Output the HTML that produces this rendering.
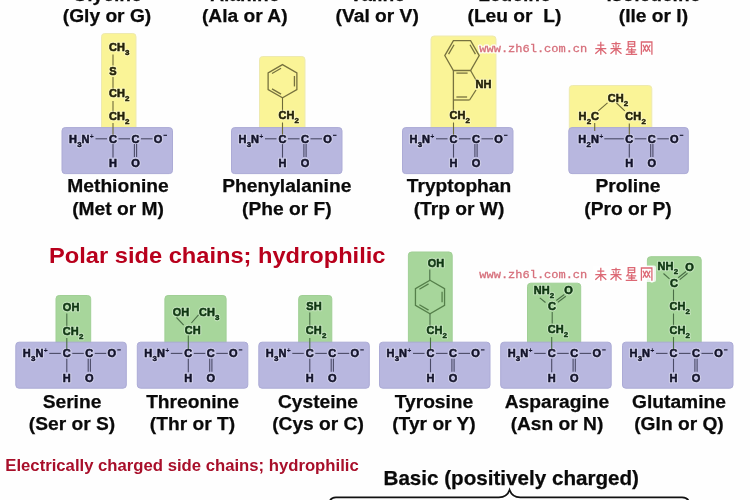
<!DOCTYPE html>
<html><head><meta charset="utf-8"><style>
html,body{margin:0;padding:0;background:#fff;}
body{width:750px;height:500px;overflow:hidden;}
svg{display:block;font-family:"Liberation Sans",sans-serif;font-weight:bold;filter:blur(0.35px);}
</style></head><body>
<svg width="750" height="500" viewBox="0 0 750 500">
<rect width="750" height="500" fill="#fefefe"/>
<text x="107.00" y="1.20" font-size="19.2" text-anchor="middle" fill="#0a0a0a" stroke="#0a0a0a" stroke-width="0.25">Glycine</text>
<text x="107.00" y="22.40" font-size="19.2" text-anchor="middle" fill="#0a0a0a" stroke="#0a0a0a" stroke-width="0.25">(Gly or G)</text>
<text x="244.80" y="1.20" font-size="19.2" text-anchor="middle" fill="#0a0a0a" stroke="#0a0a0a" stroke-width="0.25">Alanine</text>
<text x="244.80" y="22.40" font-size="19.2" text-anchor="middle" fill="#0a0a0a" stroke="#0a0a0a" stroke-width="0.25">(Ala or A)</text>
<text x="377.20" y="1.20" font-size="19.2" text-anchor="middle" fill="#0a0a0a" stroke="#0a0a0a" stroke-width="0.25">Valine</text>
<text x="377.20" y="22.40" font-size="19.2" text-anchor="middle" fill="#0a0a0a" stroke="#0a0a0a" stroke-width="0.25">(Val or V)</text>
<text x="514.40" y="1.20" font-size="19.2" text-anchor="middle" fill="#0a0a0a" stroke="#0a0a0a" stroke-width="0.25">Leucine</text>
<text x="514.40" y="22.40" font-size="19.2" text-anchor="middle" fill="#0a0a0a" stroke="#0a0a0a" stroke-width="0.25">(Leu or  L)</text>
<text x="653.40" y="1.20" font-size="19.2" text-anchor="middle" fill="#0a0a0a" stroke="#0a0a0a" stroke-width="0.25">Isoleucine</text>
<text x="653.40" y="22.40" font-size="19.2" text-anchor="middle" fill="#0a0a0a" stroke="#0a0a0a" stroke-width="0.25">(Ile or I)</text>
<rect x="101.50" y="33.50" width="34.50" height="99.00" rx="3.2" fill="#faf497" stroke="#eeeab0" stroke-width="1"/>
<rect x="62.00" y="127.60" width="110.50" height="46.00" rx="3.2" fill="#b8b7df" stroke="#acabd6" stroke-width="1"/>
<text x="69.00" y="142.60" font-size="11.0" fill="none" stroke="#fff" stroke-width="2.6" stroke-linejoin="round" opacity="0.35">H</text>
<text x="69.00" y="142.60" font-size="11.0" fill="#13132a" stroke="#13132a" stroke-width="0.55">H</text>
<text x="77.14" y="146.60" font-size="8.0" fill="none" stroke="#fff" stroke-width="2.4" stroke-linejoin="round" opacity="0.35">3</text>
<text x="77.14" y="146.60" font-size="8.0" fill="#13132a" stroke="#13132a" stroke-width="0.45">3</text>
<text x="81.59" y="142.60" font-size="11.0" fill="none" stroke="#fff" stroke-width="2.6" stroke-linejoin="round" opacity="0.35">N</text>
<text x="81.59" y="142.60" font-size="11.0" fill="#13132a" stroke="#13132a" stroke-width="0.55">N</text>
<text x="89.84" y="138.60" font-size="7.0" fill="#13132a">+</text>
<line x1="95.50" y1="138.80" x2="107.00" y2="138.80" stroke="#4a4a66" stroke-width="1.1"/>
<text x="109.03" y="142.60" font-size="11.0" fill="none" stroke="#fff" stroke-width="2.6" stroke-linejoin="round" opacity="0.35">C</text>
<text x="109.03" y="142.60" font-size="11.0" fill="#13132a" stroke="#13132a" stroke-width="0.55">C</text>
<line x1="118.50" y1="138.80" x2="130.00" y2="138.80" stroke="#4a4a66" stroke-width="1.1"/>
<text x="131.53" y="142.60" font-size="11.0" fill="none" stroke="#fff" stroke-width="2.6" stroke-linejoin="round" opacity="0.35">C</text>
<text x="131.53" y="142.60" font-size="11.0" fill="#13132a" stroke="#13132a" stroke-width="0.55">C</text>
<line x1="141.00" y1="138.80" x2="152.50" y2="138.80" stroke="#4a4a66" stroke-width="1.1"/>
<text x="153.72" y="142.60" font-size="11.0" fill="none" stroke="#fff" stroke-width="2.6" stroke-linejoin="round" opacity="0.35">O</text>
<text x="153.72" y="142.60" font-size="11.0" fill="#13132a" stroke="#13132a" stroke-width="0.55">O</text>
<line x1="163.50" y1="135.30" x2="167.00" y2="135.30" stroke="#13132a" stroke-width="1.1"/>
<line x1="113.00" y1="144.10" x2="113.00" y2="157.60" stroke="#4a4a66" stroke-width="1.1"/>
<text x="109.03" y="167.10" font-size="11.0" fill="none" stroke="#fff" stroke-width="2.6" stroke-linejoin="round" opacity="0.35">H</text>
<text x="109.03" y="167.10" font-size="11.0" fill="#13132a" stroke="#13132a" stroke-width="0.55">H</text>
<line x1="134.40" y1="144.10" x2="134.40" y2="157.10" stroke="#4a4a66" stroke-width="1.1"/>
<line x1="136.60" y1="144.10" x2="136.60" y2="157.10" stroke="#4a4a66" stroke-width="1.1"/>
<text x="131.22" y="167.10" font-size="11.0" fill="none" stroke="#fff" stroke-width="2.6" stroke-linejoin="round" opacity="0.35">O</text>
<text x="131.22" y="167.10" font-size="11.0" fill="#13132a" stroke="#13132a" stroke-width="0.55">O</text>
<text x="109.03" y="51.00" font-size="11.0" fill="none" stroke="#fff" stroke-width="2.6" stroke-linejoin="round" opacity="0.35">C</text>
<text x="109.03" y="51.00" font-size="11.0" fill="#24220a" stroke="#24220a" stroke-width="0.55">C</text>
<text x="116.97" y="51.00" font-size="11.0" fill="none" stroke="#fff" stroke-width="2.6" stroke-linejoin="round" opacity="0.35">H</text>
<text x="116.97" y="51.00" font-size="11.0" fill="#24220a" stroke="#24220a" stroke-width="0.55">H</text>
<text x="125.12" y="55.00" font-size="8.0" fill="none" stroke="#fff" stroke-width="2.4" stroke-linejoin="round" opacity="0.35">3</text>
<text x="125.12" y="55.00" font-size="8.0" fill="#24220a" stroke="#24220a" stroke-width="0.45">3</text>
<line x1="113.00" y1="54.50" x2="113.00" y2="65.50" stroke="#6e6a3a" stroke-width="1.1"/>
<text x="109.33" y="75.00" font-size="11.0" fill="none" stroke="#fff" stroke-width="2.6" stroke-linejoin="round" opacity="0.35">S</text>
<text x="109.33" y="75.00" font-size="11.0" fill="#24220a" stroke="#24220a" stroke-width="0.55">S</text>
<line x1="113.00" y1="77.00" x2="113.00" y2="88.50" stroke="#6e6a3a" stroke-width="1.1"/>
<text x="109.03" y="97.20" font-size="11.0" fill="none" stroke="#fff" stroke-width="2.6" stroke-linejoin="round" opacity="0.35">C</text>
<text x="109.03" y="97.20" font-size="11.0" fill="#24220a" stroke="#24220a" stroke-width="0.55">C</text>
<text x="116.97" y="97.20" font-size="11.0" fill="none" stroke="#fff" stroke-width="2.6" stroke-linejoin="round" opacity="0.35">H</text>
<text x="116.97" y="97.20" font-size="11.0" fill="#24220a" stroke="#24220a" stroke-width="0.55">H</text>
<text x="125.12" y="101.20" font-size="8.0" fill="none" stroke="#fff" stroke-width="2.4" stroke-linejoin="round" opacity="0.35">2</text>
<text x="125.12" y="101.20" font-size="8.0" fill="#24220a" stroke="#24220a" stroke-width="0.45">2</text>
<line x1="113.00" y1="101.00" x2="113.00" y2="111.50" stroke="#6e6a3a" stroke-width="1.1"/>
<text x="109.03" y="119.70" font-size="11.0" fill="none" stroke="#fff" stroke-width="2.6" stroke-linejoin="round" opacity="0.35">C</text>
<text x="109.03" y="119.70" font-size="11.0" fill="#24220a" stroke="#24220a" stroke-width="0.55">C</text>
<text x="116.97" y="119.70" font-size="11.0" fill="none" stroke="#fff" stroke-width="2.6" stroke-linejoin="round" opacity="0.35">H</text>
<text x="116.97" y="119.70" font-size="11.0" fill="#24220a" stroke="#24220a" stroke-width="0.55">H</text>
<text x="125.12" y="123.70" font-size="8.0" fill="none" stroke="#fff" stroke-width="2.4" stroke-linejoin="round" opacity="0.35">2</text>
<text x="125.12" y="123.70" font-size="8.0" fill="#24220a" stroke="#24220a" stroke-width="0.45">2</text>
<line x1="113.00" y1="123.00" x2="113.00" y2="134.50" stroke="#6e6a3a" stroke-width="1.1"/>
<text x="118.00" y="192.20" font-size="19.2" text-anchor="middle" fill="#0a0a0a" stroke="#0a0a0a" stroke-width="0.25">Methionine</text>
<text x="118.00" y="214.70" font-size="19.2" text-anchor="middle" fill="#0a0a0a" stroke="#0a0a0a" stroke-width="0.25">(Met or M)</text>
<rect x="259.50" y="56.50" width="45.50" height="79.00" rx="3.2" fill="#faf497" stroke="#eeeab0" stroke-width="1"/>
<rect x="231.50" y="127.60" width="110.50" height="46.00" rx="3.2" fill="#b8b7df" stroke="#acabd6" stroke-width="1"/>
<text x="238.50" y="142.60" font-size="11.0" fill="none" stroke="#fff" stroke-width="2.6" stroke-linejoin="round" opacity="0.35">H</text>
<text x="238.50" y="142.60" font-size="11.0" fill="#13132a" stroke="#13132a" stroke-width="0.55">H</text>
<text x="246.64" y="146.60" font-size="8.0" fill="none" stroke="#fff" stroke-width="2.4" stroke-linejoin="round" opacity="0.35">3</text>
<text x="246.64" y="146.60" font-size="8.0" fill="#13132a" stroke="#13132a" stroke-width="0.45">3</text>
<text x="251.09" y="142.60" font-size="11.0" fill="none" stroke="#fff" stroke-width="2.6" stroke-linejoin="round" opacity="0.35">N</text>
<text x="251.09" y="142.60" font-size="11.0" fill="#13132a" stroke="#13132a" stroke-width="0.55">N</text>
<text x="259.34" y="138.60" font-size="7.0" fill="#13132a">+</text>
<line x1="265.00" y1="138.80" x2="276.50" y2="138.80" stroke="#4a4a66" stroke-width="1.1"/>
<text x="278.53" y="142.60" font-size="11.0" fill="none" stroke="#fff" stroke-width="2.6" stroke-linejoin="round" opacity="0.35">C</text>
<text x="278.53" y="142.60" font-size="11.0" fill="#13132a" stroke="#13132a" stroke-width="0.55">C</text>
<line x1="288.00" y1="138.80" x2="299.50" y2="138.80" stroke="#4a4a66" stroke-width="1.1"/>
<text x="301.03" y="142.60" font-size="11.0" fill="none" stroke="#fff" stroke-width="2.6" stroke-linejoin="round" opacity="0.35">C</text>
<text x="301.03" y="142.60" font-size="11.0" fill="#13132a" stroke="#13132a" stroke-width="0.55">C</text>
<line x1="310.50" y1="138.80" x2="322.00" y2="138.80" stroke="#4a4a66" stroke-width="1.1"/>
<text x="323.22" y="142.60" font-size="11.0" fill="none" stroke="#fff" stroke-width="2.6" stroke-linejoin="round" opacity="0.35">O</text>
<text x="323.22" y="142.60" font-size="11.0" fill="#13132a" stroke="#13132a" stroke-width="0.55">O</text>
<line x1="333.00" y1="135.30" x2="336.50" y2="135.30" stroke="#13132a" stroke-width="1.1"/>
<line x1="282.50" y1="144.10" x2="282.50" y2="157.60" stroke="#4a4a66" stroke-width="1.1"/>
<text x="278.53" y="167.10" font-size="11.0" fill="none" stroke="#fff" stroke-width="2.6" stroke-linejoin="round" opacity="0.35">H</text>
<text x="278.53" y="167.10" font-size="11.0" fill="#13132a" stroke="#13132a" stroke-width="0.55">H</text>
<line x1="303.90" y1="144.10" x2="303.90" y2="157.10" stroke="#4a4a66" stroke-width="1.1"/>
<line x1="306.10" y1="144.10" x2="306.10" y2="157.10" stroke="#4a4a66" stroke-width="1.1"/>
<text x="300.72" y="167.10" font-size="11.0" fill="none" stroke="#fff" stroke-width="2.6" stroke-linejoin="round" opacity="0.35">O</text>
<text x="300.72" y="167.10" font-size="11.0" fill="#13132a" stroke="#13132a" stroke-width="0.55">O</text>
<path d="M282.50,64.60 L296.88,72.90 L296.88,89.50 L282.50,97.80 L268.12,89.50 L268.12,72.90 Z" fill="none" stroke="#77723f" stroke-width="1.3"/>
<line x1="272.00" y1="73.48" x2="281.07" y2="68.25" stroke="#77723f" stroke-width="1.3"/>
<line x1="294.43" y1="75.96" x2="294.43" y2="86.44" stroke="#77723f" stroke-width="1.3"/>
<line x1="281.07" y1="94.15" x2="272.00" y2="88.92" stroke="#77723f" stroke-width="1.3"/>
<line x1="282.50" y1="97.80" x2="282.50" y2="111.00" stroke="#6e6a3a" stroke-width="1.1"/>
<text x="278.53" y="119.00" font-size="11.0" fill="none" stroke="#fff" stroke-width="2.6" stroke-linejoin="round" opacity="0.35">C</text>
<text x="278.53" y="119.00" font-size="11.0" fill="#24220a" stroke="#24220a" stroke-width="0.55">C</text>
<text x="286.47" y="119.00" font-size="11.0" fill="none" stroke="#fff" stroke-width="2.6" stroke-linejoin="round" opacity="0.35">H</text>
<text x="286.47" y="119.00" font-size="11.0" fill="#24220a" stroke="#24220a" stroke-width="0.55">H</text>
<text x="294.62" y="123.00" font-size="8.0" fill="none" stroke="#fff" stroke-width="2.4" stroke-linejoin="round" opacity="0.35">2</text>
<text x="294.62" y="123.00" font-size="8.0" fill="#24220a" stroke="#24220a" stroke-width="0.45">2</text>
<line x1="282.50" y1="122.50" x2="282.50" y2="134.50" stroke="#6e6a3a" stroke-width="1.1"/>
<text x="286.80" y="192.20" font-size="19.2" text-anchor="middle" fill="#0a0a0a" stroke="#0a0a0a" stroke-width="0.25">Phenylalanine</text>
<text x="286.80" y="214.70" font-size="19.2" text-anchor="middle" fill="#0a0a0a" stroke="#0a0a0a" stroke-width="0.25">(Phe or F)</text>
<rect x="431.00" y="36.00" width="65.00" height="99.00" rx="3.2" fill="#faf497" stroke="#eeeab0" stroke-width="1"/>
<rect x="402.50" y="127.60" width="110.50" height="46.00" rx="3.2" fill="#b8b7df" stroke="#acabd6" stroke-width="1"/>
<text x="409.50" y="142.60" font-size="11.0" fill="none" stroke="#fff" stroke-width="2.6" stroke-linejoin="round" opacity="0.35">H</text>
<text x="409.50" y="142.60" font-size="11.0" fill="#13132a" stroke="#13132a" stroke-width="0.55">H</text>
<text x="417.64" y="146.60" font-size="8.0" fill="none" stroke="#fff" stroke-width="2.4" stroke-linejoin="round" opacity="0.35">3</text>
<text x="417.64" y="146.60" font-size="8.0" fill="#13132a" stroke="#13132a" stroke-width="0.45">3</text>
<text x="422.09" y="142.60" font-size="11.0" fill="none" stroke="#fff" stroke-width="2.6" stroke-linejoin="round" opacity="0.35">N</text>
<text x="422.09" y="142.60" font-size="11.0" fill="#13132a" stroke="#13132a" stroke-width="0.55">N</text>
<text x="430.34" y="138.60" font-size="7.0" fill="#13132a">+</text>
<line x1="436.00" y1="138.80" x2="447.50" y2="138.80" stroke="#4a4a66" stroke-width="1.1"/>
<text x="449.53" y="142.60" font-size="11.0" fill="none" stroke="#fff" stroke-width="2.6" stroke-linejoin="round" opacity="0.35">C</text>
<text x="449.53" y="142.60" font-size="11.0" fill="#13132a" stroke="#13132a" stroke-width="0.55">C</text>
<line x1="459.00" y1="138.80" x2="470.50" y2="138.80" stroke="#4a4a66" stroke-width="1.1"/>
<text x="472.03" y="142.60" font-size="11.0" fill="none" stroke="#fff" stroke-width="2.6" stroke-linejoin="round" opacity="0.35">C</text>
<text x="472.03" y="142.60" font-size="11.0" fill="#13132a" stroke="#13132a" stroke-width="0.55">C</text>
<line x1="481.50" y1="138.80" x2="493.00" y2="138.80" stroke="#4a4a66" stroke-width="1.1"/>
<text x="494.22" y="142.60" font-size="11.0" fill="none" stroke="#fff" stroke-width="2.6" stroke-linejoin="round" opacity="0.35">O</text>
<text x="494.22" y="142.60" font-size="11.0" fill="#13132a" stroke="#13132a" stroke-width="0.55">O</text>
<line x1="504.00" y1="135.30" x2="507.50" y2="135.30" stroke="#13132a" stroke-width="1.1"/>
<line x1="453.50" y1="144.10" x2="453.50" y2="157.60" stroke="#4a4a66" stroke-width="1.1"/>
<text x="449.53" y="167.10" font-size="11.0" fill="none" stroke="#fff" stroke-width="2.6" stroke-linejoin="round" opacity="0.35">H</text>
<text x="449.53" y="167.10" font-size="11.0" fill="#13132a" stroke="#13132a" stroke-width="0.55">H</text>
<line x1="474.90" y1="144.10" x2="474.90" y2="157.10" stroke="#4a4a66" stroke-width="1.1"/>
<line x1="477.10" y1="144.10" x2="477.10" y2="157.10" stroke="#4a4a66" stroke-width="1.1"/>
<text x="471.72" y="167.10" font-size="11.0" fill="none" stroke="#fff" stroke-width="2.6" stroke-linejoin="round" opacity="0.35">O</text>
<text x="471.72" y="167.10" font-size="11.0" fill="#13132a" stroke="#13132a" stroke-width="0.55">O</text>
<path d="M453.40,40.70 L470.60,40.70 L479.20,55.60 L470.60,70.50 L453.40,70.50 L444.80,55.60 Z" fill="none" stroke="#77723f" stroke-width="1.3"/>
<line x1="448.58" y1="54.12" x2="454.01" y2="44.72" stroke="#77723f" stroke-width="1.3"/>
<line x1="469.99" y1="44.72" x2="475.42" y2="54.12" stroke="#77723f" stroke-width="1.3"/>
<line x1="456.40" y1="73.10" x2="467.60" y2="73.10" stroke="#77723f" stroke-width="1.3"/>
<line x1="453.40" y1="70.50" x2="453.40" y2="100.00" stroke="#77723f" stroke-width="1.3"/>
<line x1="453.40" y1="100.00" x2="469.60" y2="100.00" stroke="#77723f" stroke-width="1.3"/>
<line x1="456.40" y1="97.00" x2="467.10" y2="97.00" stroke="#77723f" stroke-width="1.3"/>
<line x1="470.60" y1="70.50" x2="476.50" y2="81.00" stroke="#77723f" stroke-width="1.3"/>
<line x1="469.60" y1="100.00" x2="476.00" y2="90.00" stroke="#77723f" stroke-width="1.3"/>
<text x="475.60" y="88.30" font-size="11.0" fill="none" stroke="#fff" stroke-width="2.6" stroke-linejoin="round" opacity="0.35">NH</text>
<text x="475.60" y="88.30" font-size="11.0" fill="#24220a" stroke="#24220a" stroke-width="0.55">NH</text>
<line x1="453.40" y1="100.00" x2="453.40" y2="111.50" stroke="#77723f" stroke-width="1.3"/>
<text x="449.53" y="119.20" font-size="11.0" fill="none" stroke="#fff" stroke-width="2.6" stroke-linejoin="round" opacity="0.35">C</text>
<text x="449.53" y="119.20" font-size="11.0" fill="#24220a" stroke="#24220a" stroke-width="0.55">C</text>
<text x="457.47" y="119.20" font-size="11.0" fill="none" stroke="#fff" stroke-width="2.6" stroke-linejoin="round" opacity="0.35">H</text>
<text x="457.47" y="119.20" font-size="11.0" fill="#24220a" stroke="#24220a" stroke-width="0.55">H</text>
<text x="465.62" y="123.20" font-size="8.0" fill="none" stroke="#fff" stroke-width="2.4" stroke-linejoin="round" opacity="0.35">2</text>
<text x="465.62" y="123.20" font-size="8.0" fill="#24220a" stroke="#24220a" stroke-width="0.45">2</text>
<line x1="453.50" y1="122.50" x2="453.50" y2="134.50" stroke="#6e6a3a" stroke-width="1.1"/>
<text x="459.00" y="192.20" font-size="19.2" text-anchor="middle" fill="#0a0a0a" stroke="#0a0a0a" stroke-width="0.25">Tryptophan</text>
<text x="459.00" y="214.70" font-size="19.2" text-anchor="middle" fill="#0a0a0a" stroke="#0a0a0a" stroke-width="0.25">(Trp or W)</text>
<rect x="569.30" y="85.50" width="82.50" height="49.00" rx="3.2" fill="#faf497" stroke="#eeeab0" stroke-width="1"/>
<rect x="568.80" y="127.60" width="119.50" height="46.00" rx="3.2" fill="#b8b7df" stroke="#acabd6" stroke-width="1"/>
<text x="578.30" y="142.60" font-size="11.0" fill="none" stroke="#fff" stroke-width="2.6" stroke-linejoin="round" opacity="0.35">H</text>
<text x="578.30" y="142.60" font-size="11.0" fill="#13132a" stroke="#13132a" stroke-width="0.55">H</text>
<text x="586.44" y="146.60" font-size="8.0" fill="none" stroke="#fff" stroke-width="2.4" stroke-linejoin="round" opacity="0.35">2</text>
<text x="586.44" y="146.60" font-size="8.0" fill="#13132a" stroke="#13132a" stroke-width="0.45">2</text>
<text x="590.89" y="142.60" font-size="11.0" fill="none" stroke="#fff" stroke-width="2.6" stroke-linejoin="round" opacity="0.35">N</text>
<text x="590.89" y="142.60" font-size="11.0" fill="#13132a" stroke="#13132a" stroke-width="0.55">N</text>
<text x="599.14" y="138.60" font-size="7.0" fill="#13132a">+</text>
<line x1="604.30" y1="138.80" x2="623.80" y2="138.80" stroke="#4a4a66" stroke-width="1.1"/>
<text x="625.33" y="142.60" font-size="11.0" fill="none" stroke="#fff" stroke-width="2.6" stroke-linejoin="round" opacity="0.35">C</text>
<text x="625.33" y="142.60" font-size="11.0" fill="#13132a" stroke="#13132a" stroke-width="0.55">C</text>
<line x1="634.80" y1="138.80" x2="646.30" y2="138.80" stroke="#4a4a66" stroke-width="1.1"/>
<text x="647.83" y="142.60" font-size="11.0" fill="none" stroke="#fff" stroke-width="2.6" stroke-linejoin="round" opacity="0.35">C</text>
<text x="647.83" y="142.60" font-size="11.0" fill="#13132a" stroke="#13132a" stroke-width="0.55">C</text>
<line x1="657.30" y1="138.80" x2="668.80" y2="138.80" stroke="#4a4a66" stroke-width="1.1"/>
<text x="670.02" y="142.60" font-size="11.0" fill="none" stroke="#fff" stroke-width="2.6" stroke-linejoin="round" opacity="0.35">O</text>
<text x="670.02" y="142.60" font-size="11.0" fill="#13132a" stroke="#13132a" stroke-width="0.55">O</text>
<line x1="679.80" y1="135.30" x2="683.30" y2="135.30" stroke="#13132a" stroke-width="1.1"/>
<line x1="629.30" y1="144.10" x2="629.30" y2="157.60" stroke="#4a4a66" stroke-width="1.1"/>
<text x="625.33" y="167.10" font-size="11.0" fill="none" stroke="#fff" stroke-width="2.6" stroke-linejoin="round" opacity="0.35">H</text>
<text x="625.33" y="167.10" font-size="11.0" fill="#13132a" stroke="#13132a" stroke-width="0.55">H</text>
<line x1="650.70" y1="144.10" x2="650.70" y2="157.10" stroke="#4a4a66" stroke-width="1.1"/>
<line x1="652.90" y1="144.10" x2="652.90" y2="157.10" stroke="#4a4a66" stroke-width="1.1"/>
<text x="647.52" y="167.10" font-size="11.0" fill="none" stroke="#fff" stroke-width="2.6" stroke-linejoin="round" opacity="0.35">O</text>
<text x="647.52" y="167.10" font-size="11.0" fill="#13132a" stroke="#13132a" stroke-width="0.55">O</text>
<text x="607.70" y="101.70" font-size="11.0" fill="none" stroke="#fff" stroke-width="2.6" stroke-linejoin="round" opacity="0.35">C</text>
<text x="607.70" y="101.70" font-size="11.0" fill="#24220a" stroke="#24220a" stroke-width="0.55">C</text>
<text x="615.64" y="101.70" font-size="11.0" fill="none" stroke="#fff" stroke-width="2.6" stroke-linejoin="round" opacity="0.35">H</text>
<text x="615.64" y="101.70" font-size="11.0" fill="#24220a" stroke="#24220a" stroke-width="0.55">H</text>
<text x="623.79" y="105.70" font-size="8.0" fill="none" stroke="#fff" stroke-width="2.4" stroke-linejoin="round" opacity="0.35">2</text>
<text x="623.79" y="105.70" font-size="8.0" fill="#24220a" stroke="#24220a" stroke-width="0.45">2</text>
<text x="578.50" y="119.80" font-size="11.0" fill="none" stroke="#fff" stroke-width="2.6" stroke-linejoin="round" opacity="0.35">H</text>
<text x="578.50" y="119.80" font-size="11.0" fill="#24220a" stroke="#24220a" stroke-width="0.55">H</text>
<text x="586.64" y="123.80" font-size="8.0" fill="none" stroke="#fff" stroke-width="2.4" stroke-linejoin="round" opacity="0.35">2</text>
<text x="586.64" y="123.80" font-size="8.0" fill="#24220a" stroke="#24220a" stroke-width="0.45">2</text>
<text x="591.09" y="119.80" font-size="11.0" fill="none" stroke="#fff" stroke-width="2.6" stroke-linejoin="round" opacity="0.35">C</text>
<text x="591.09" y="119.80" font-size="11.0" fill="#24220a" stroke="#24220a" stroke-width="0.55">C</text>
<text x="625.30" y="120.20" font-size="11.0" fill="none" stroke="#fff" stroke-width="2.6" stroke-linejoin="round" opacity="0.35">C</text>
<text x="625.30" y="120.20" font-size="11.0" fill="#24220a" stroke="#24220a" stroke-width="0.55">C</text>
<text x="633.24" y="120.20" font-size="11.0" fill="none" stroke="#fff" stroke-width="2.6" stroke-linejoin="round" opacity="0.35">H</text>
<text x="633.24" y="120.20" font-size="11.0" fill="#24220a" stroke="#24220a" stroke-width="0.55">H</text>
<text x="641.39" y="124.20" font-size="8.0" fill="none" stroke="#fff" stroke-width="2.4" stroke-linejoin="round" opacity="0.35">2</text>
<text x="641.39" y="124.20" font-size="8.0" fill="#24220a" stroke="#24220a" stroke-width="0.45">2</text>
<line x1="598.30" y1="110.80" x2="607.50" y2="102.80" stroke="#6e6a3a" stroke-width="1.1"/>
<line x1="616.50" y1="103.00" x2="624.80" y2="110.80" stroke="#6e6a3a" stroke-width="1.1"/>
<line x1="594.70" y1="123.00" x2="594.70" y2="131.00" stroke="#6e6a3a" stroke-width="1.1"/>
<line x1="629.30" y1="123.50" x2="629.30" y2="134.50" stroke="#6e6a3a" stroke-width="1.1"/>
<text x="628.00" y="192.20" font-size="19.2" text-anchor="middle" fill="#0a0a0a" stroke="#0a0a0a" stroke-width="0.25">Proline</text>
<text x="628.00" y="214.70" font-size="19.2" text-anchor="middle" fill="#0a0a0a" stroke="#0a0a0a" stroke-width="0.25">(Pro or P)</text>
<text x="49.0" y="262.8" font-size="22.6" fill="#b8001c" textLength="336.5" lengthAdjust="spacingAndGlyphs">Polar side chains; hydrophilic</text>
<rect x="56.00" y="295.50" width="34.70" height="54.00" rx="3.2" fill="#a7d69b" stroke="#a0cf95" stroke-width="1"/>
<rect x="15.80" y="342.20" width="110.50" height="46.00" rx="3.2" fill="#b8b7df" stroke="#acabd6" stroke-width="1"/>
<text x="22.80" y="357.20" font-size="11.0" fill="none" stroke="#fff" stroke-width="2.6" stroke-linejoin="round" opacity="0.35">H</text>
<text x="22.80" y="357.20" font-size="11.0" fill="#13132a" stroke="#13132a" stroke-width="0.55">H</text>
<text x="30.94" y="361.20" font-size="8.0" fill="none" stroke="#fff" stroke-width="2.4" stroke-linejoin="round" opacity="0.35">3</text>
<text x="30.94" y="361.20" font-size="8.0" fill="#13132a" stroke="#13132a" stroke-width="0.45">3</text>
<text x="35.39" y="357.20" font-size="11.0" fill="none" stroke="#fff" stroke-width="2.6" stroke-linejoin="round" opacity="0.35">N</text>
<text x="35.39" y="357.20" font-size="11.0" fill="#13132a" stroke="#13132a" stroke-width="0.55">N</text>
<text x="43.64" y="353.20" font-size="7.0" fill="#13132a">+</text>
<line x1="49.30" y1="353.40" x2="60.80" y2="353.40" stroke="#4a4a66" stroke-width="1.1"/>
<text x="62.83" y="357.20" font-size="11.0" fill="none" stroke="#fff" stroke-width="2.6" stroke-linejoin="round" opacity="0.35">C</text>
<text x="62.83" y="357.20" font-size="11.0" fill="#13132a" stroke="#13132a" stroke-width="0.55">C</text>
<line x1="72.30" y1="353.40" x2="83.80" y2="353.40" stroke="#4a4a66" stroke-width="1.1"/>
<text x="85.33" y="357.20" font-size="11.0" fill="none" stroke="#fff" stroke-width="2.6" stroke-linejoin="round" opacity="0.35">C</text>
<text x="85.33" y="357.20" font-size="11.0" fill="#13132a" stroke="#13132a" stroke-width="0.55">C</text>
<line x1="94.80" y1="353.40" x2="106.30" y2="353.40" stroke="#4a4a66" stroke-width="1.1"/>
<text x="107.52" y="357.20" font-size="11.0" fill="none" stroke="#fff" stroke-width="2.6" stroke-linejoin="round" opacity="0.35">O</text>
<text x="107.52" y="357.20" font-size="11.0" fill="#13132a" stroke="#13132a" stroke-width="0.55">O</text>
<line x1="117.30" y1="349.90" x2="120.80" y2="349.90" stroke="#13132a" stroke-width="1.1"/>
<line x1="66.80" y1="358.70" x2="66.80" y2="372.20" stroke="#4a4a66" stroke-width="1.1"/>
<text x="62.83" y="381.70" font-size="11.0" fill="none" stroke="#fff" stroke-width="2.6" stroke-linejoin="round" opacity="0.35">H</text>
<text x="62.83" y="381.70" font-size="11.0" fill="#13132a" stroke="#13132a" stroke-width="0.55">H</text>
<line x1="88.20" y1="358.70" x2="88.20" y2="371.70" stroke="#4a4a66" stroke-width="1.1"/>
<line x1="90.40" y1="358.70" x2="90.40" y2="371.70" stroke="#4a4a66" stroke-width="1.1"/>
<text x="85.02" y="381.70" font-size="11.0" fill="none" stroke="#fff" stroke-width="2.6" stroke-linejoin="round" opacity="0.35">O</text>
<text x="85.02" y="381.70" font-size="11.0" fill="#13132a" stroke="#13132a" stroke-width="0.55">O</text>
<text x="62.83" y="311.40" font-size="11.0" fill="none" stroke="#fff" stroke-width="2.6" stroke-linejoin="round" opacity="0.35">O</text>
<text x="62.83" y="311.40" font-size="11.0" fill="#0f3612" stroke="#0f3612" stroke-width="0.55">O</text>
<text x="71.39" y="311.40" font-size="11.0" fill="none" stroke="#fff" stroke-width="2.6" stroke-linejoin="round" opacity="0.35">H</text>
<text x="71.39" y="311.40" font-size="11.0" fill="#0f3612" stroke="#0f3612" stroke-width="0.55">H</text>
<line x1="66.80" y1="313.50" x2="66.80" y2="326.50" stroke="#4a6e46" stroke-width="1.1"/>
<text x="62.83" y="334.50" font-size="11.0" fill="none" stroke="#fff" stroke-width="2.6" stroke-linejoin="round" opacity="0.35">C</text>
<text x="62.83" y="334.50" font-size="11.0" fill="#0f3612" stroke="#0f3612" stroke-width="0.55">C</text>
<text x="70.77" y="334.50" font-size="11.0" fill="none" stroke="#fff" stroke-width="2.6" stroke-linejoin="round" opacity="0.35">H</text>
<text x="70.77" y="334.50" font-size="11.0" fill="#0f3612" stroke="#0f3612" stroke-width="0.55">H</text>
<text x="78.92" y="338.50" font-size="8.0" fill="none" stroke="#fff" stroke-width="2.4" stroke-linejoin="round" opacity="0.35">2</text>
<text x="78.92" y="338.50" font-size="8.0" fill="#0f3612" stroke="#0f3612" stroke-width="0.45">2</text>
<line x1="66.80" y1="338.00" x2="66.80" y2="349.00" stroke="#4a6e46" stroke-width="1.1"/>
<text x="72.00" y="408.00" font-size="19.2" text-anchor="middle" fill="#0a0a0a" stroke="#0a0a0a" stroke-width="0.25">Serine</text>
<text x="72.00" y="430.00" font-size="19.2" text-anchor="middle" fill="#0a0a0a" stroke="#0a0a0a" stroke-width="0.25">(Ser or S)</text>
<rect x="164.90" y="295.50" width="61.20" height="54.00" rx="3.2" fill="#a7d69b" stroke="#a0cf95" stroke-width="1"/>
<rect x="137.30" y="342.20" width="110.50" height="46.00" rx="3.2" fill="#b8b7df" stroke="#acabd6" stroke-width="1"/>
<text x="144.30" y="357.20" font-size="11.0" fill="none" stroke="#fff" stroke-width="2.6" stroke-linejoin="round" opacity="0.35">H</text>
<text x="144.30" y="357.20" font-size="11.0" fill="#13132a" stroke="#13132a" stroke-width="0.55">H</text>
<text x="152.44" y="361.20" font-size="8.0" fill="none" stroke="#fff" stroke-width="2.4" stroke-linejoin="round" opacity="0.35">3</text>
<text x="152.44" y="361.20" font-size="8.0" fill="#13132a" stroke="#13132a" stroke-width="0.45">3</text>
<text x="156.89" y="357.20" font-size="11.0" fill="none" stroke="#fff" stroke-width="2.6" stroke-linejoin="round" opacity="0.35">N</text>
<text x="156.89" y="357.20" font-size="11.0" fill="#13132a" stroke="#13132a" stroke-width="0.55">N</text>
<text x="165.14" y="353.20" font-size="7.0" fill="#13132a">+</text>
<line x1="170.80" y1="353.40" x2="182.30" y2="353.40" stroke="#4a4a66" stroke-width="1.1"/>
<text x="184.33" y="357.20" font-size="11.0" fill="none" stroke="#fff" stroke-width="2.6" stroke-linejoin="round" opacity="0.35">C</text>
<text x="184.33" y="357.20" font-size="11.0" fill="#13132a" stroke="#13132a" stroke-width="0.55">C</text>
<line x1="193.80" y1="353.40" x2="205.30" y2="353.40" stroke="#4a4a66" stroke-width="1.1"/>
<text x="206.83" y="357.20" font-size="11.0" fill="none" stroke="#fff" stroke-width="2.6" stroke-linejoin="round" opacity="0.35">C</text>
<text x="206.83" y="357.20" font-size="11.0" fill="#13132a" stroke="#13132a" stroke-width="0.55">C</text>
<line x1="216.30" y1="353.40" x2="227.80" y2="353.40" stroke="#4a4a66" stroke-width="1.1"/>
<text x="229.02" y="357.20" font-size="11.0" fill="none" stroke="#fff" stroke-width="2.6" stroke-linejoin="round" opacity="0.35">O</text>
<text x="229.02" y="357.20" font-size="11.0" fill="#13132a" stroke="#13132a" stroke-width="0.55">O</text>
<line x1="238.80" y1="349.90" x2="242.30" y2="349.90" stroke="#13132a" stroke-width="1.1"/>
<line x1="188.30" y1="358.70" x2="188.30" y2="372.20" stroke="#4a4a66" stroke-width="1.1"/>
<text x="184.33" y="381.70" font-size="11.0" fill="none" stroke="#fff" stroke-width="2.6" stroke-linejoin="round" opacity="0.35">H</text>
<text x="184.33" y="381.70" font-size="11.0" fill="#13132a" stroke="#13132a" stroke-width="0.55">H</text>
<line x1="209.70" y1="358.70" x2="209.70" y2="371.70" stroke="#4a4a66" stroke-width="1.1"/>
<line x1="211.90" y1="358.70" x2="211.90" y2="371.70" stroke="#4a4a66" stroke-width="1.1"/>
<text x="206.52" y="381.70" font-size="11.0" fill="none" stroke="#fff" stroke-width="2.6" stroke-linejoin="round" opacity="0.35">O</text>
<text x="206.52" y="381.70" font-size="11.0" fill="#13132a" stroke="#13132a" stroke-width="0.55">O</text>
<text x="172.70" y="315.90" font-size="11.0" fill="none" stroke="#fff" stroke-width="2.6" stroke-linejoin="round" opacity="0.35">O</text>
<text x="172.70" y="315.90" font-size="11.0" fill="#0f3612" stroke="#0f3612" stroke-width="0.55">O</text>
<text x="181.26" y="315.90" font-size="11.0" fill="none" stroke="#fff" stroke-width="2.6" stroke-linejoin="round" opacity="0.35">H</text>
<text x="181.26" y="315.90" font-size="11.0" fill="#0f3612" stroke="#0f3612" stroke-width="0.55">H</text>
<text x="199.00" y="316.20" font-size="11.0" fill="none" stroke="#fff" stroke-width="2.6" stroke-linejoin="round" opacity="0.35">C</text>
<text x="199.00" y="316.20" font-size="11.0" fill="#0f3612" stroke="#0f3612" stroke-width="0.55">C</text>
<text x="206.94" y="316.20" font-size="11.0" fill="none" stroke="#fff" stroke-width="2.6" stroke-linejoin="round" opacity="0.35">H</text>
<text x="206.94" y="316.20" font-size="11.0" fill="#0f3612" stroke="#0f3612" stroke-width="0.55">H</text>
<text x="215.09" y="320.20" font-size="8.0" fill="none" stroke="#fff" stroke-width="2.4" stroke-linejoin="round" opacity="0.35">3</text>
<text x="215.09" y="320.20" font-size="8.0" fill="#0f3612" stroke="#0f3612" stroke-width="0.45">3</text>
<text x="184.80" y="333.50" font-size="11.0" fill="none" stroke="#fff" stroke-width="2.6" stroke-linejoin="round" opacity="0.35">C</text>
<text x="184.80" y="333.50" font-size="11.0" fill="#0f3612" stroke="#0f3612" stroke-width="0.55">C</text>
<text x="192.74" y="333.50" font-size="11.0" fill="none" stroke="#fff" stroke-width="2.6" stroke-linejoin="round" opacity="0.35">H</text>
<text x="192.74" y="333.50" font-size="11.0" fill="#0f3612" stroke="#0f3612" stroke-width="0.55">H</text>
<line x1="176.50" y1="317.50" x2="183.70" y2="325.20" stroke="#4a6e46" stroke-width="1.1"/>
<line x1="198.50" y1="314.80" x2="191.40" y2="323.00" stroke="#4a6e46" stroke-width="1.1"/>
<line x1="188.30" y1="335.50" x2="188.30" y2="349.00" stroke="#4a6e46" stroke-width="1.1"/>
<text x="192.50" y="408.00" font-size="19.2" text-anchor="middle" fill="#0a0a0a" stroke="#0a0a0a" stroke-width="0.25">Threonine</text>
<text x="192.50" y="430.00" font-size="19.2" text-anchor="middle" fill="#0a0a0a" stroke="#0a0a0a" stroke-width="0.25">(Thr or T)</text>
<rect x="298.70" y="295.50" width="33.10" height="54.00" rx="3.2" fill="#a7d69b" stroke="#a0cf95" stroke-width="1"/>
<rect x="258.80" y="342.20" width="110.50" height="46.00" rx="3.2" fill="#b8b7df" stroke="#acabd6" stroke-width="1"/>
<text x="265.80" y="357.20" font-size="11.0" fill="none" stroke="#fff" stroke-width="2.6" stroke-linejoin="round" opacity="0.35">H</text>
<text x="265.80" y="357.20" font-size="11.0" fill="#13132a" stroke="#13132a" stroke-width="0.55">H</text>
<text x="273.94" y="361.20" font-size="8.0" fill="none" stroke="#fff" stroke-width="2.4" stroke-linejoin="round" opacity="0.35">3</text>
<text x="273.94" y="361.20" font-size="8.0" fill="#13132a" stroke="#13132a" stroke-width="0.45">3</text>
<text x="278.39" y="357.20" font-size="11.0" fill="none" stroke="#fff" stroke-width="2.6" stroke-linejoin="round" opacity="0.35">N</text>
<text x="278.39" y="357.20" font-size="11.0" fill="#13132a" stroke="#13132a" stroke-width="0.55">N</text>
<text x="286.64" y="353.20" font-size="7.0" fill="#13132a">+</text>
<line x1="292.30" y1="353.40" x2="303.80" y2="353.40" stroke="#4a4a66" stroke-width="1.1"/>
<text x="305.83" y="357.20" font-size="11.0" fill="none" stroke="#fff" stroke-width="2.6" stroke-linejoin="round" opacity="0.35">C</text>
<text x="305.83" y="357.20" font-size="11.0" fill="#13132a" stroke="#13132a" stroke-width="0.55">C</text>
<line x1="315.30" y1="353.40" x2="326.80" y2="353.40" stroke="#4a4a66" stroke-width="1.1"/>
<text x="328.33" y="357.20" font-size="11.0" fill="none" stroke="#fff" stroke-width="2.6" stroke-linejoin="round" opacity="0.35">C</text>
<text x="328.33" y="357.20" font-size="11.0" fill="#13132a" stroke="#13132a" stroke-width="0.55">C</text>
<line x1="337.80" y1="353.40" x2="349.30" y2="353.40" stroke="#4a4a66" stroke-width="1.1"/>
<text x="350.52" y="357.20" font-size="11.0" fill="none" stroke="#fff" stroke-width="2.6" stroke-linejoin="round" opacity="0.35">O</text>
<text x="350.52" y="357.20" font-size="11.0" fill="#13132a" stroke="#13132a" stroke-width="0.55">O</text>
<line x1="360.30" y1="349.90" x2="363.80" y2="349.90" stroke="#13132a" stroke-width="1.1"/>
<line x1="309.80" y1="358.70" x2="309.80" y2="372.20" stroke="#4a4a66" stroke-width="1.1"/>
<text x="305.83" y="381.70" font-size="11.0" fill="none" stroke="#fff" stroke-width="2.6" stroke-linejoin="round" opacity="0.35">H</text>
<text x="305.83" y="381.70" font-size="11.0" fill="#13132a" stroke="#13132a" stroke-width="0.55">H</text>
<line x1="331.20" y1="358.70" x2="331.20" y2="371.70" stroke="#4a4a66" stroke-width="1.1"/>
<line x1="333.40" y1="358.70" x2="333.40" y2="371.70" stroke="#4a4a66" stroke-width="1.1"/>
<text x="328.02" y="381.70" font-size="11.0" fill="none" stroke="#fff" stroke-width="2.6" stroke-linejoin="round" opacity="0.35">O</text>
<text x="328.02" y="381.70" font-size="11.0" fill="#13132a" stroke="#13132a" stroke-width="0.55">O</text>
<text x="306.30" y="310.30" font-size="11.0" fill="none" stroke="#fff" stroke-width="2.6" stroke-linejoin="round" opacity="0.35">S</text>
<text x="306.30" y="310.30" font-size="11.0" fill="#0f3612" stroke="#0f3612" stroke-width="0.55">S</text>
<text x="313.64" y="310.30" font-size="11.0" fill="none" stroke="#fff" stroke-width="2.6" stroke-linejoin="round" opacity="0.35">H</text>
<text x="313.64" y="310.30" font-size="11.0" fill="#0f3612" stroke="#0f3612" stroke-width="0.55">H</text>
<line x1="309.80" y1="312.50" x2="309.80" y2="325.50" stroke="#4a6e46" stroke-width="1.1"/>
<text x="305.83" y="334.00" font-size="11.0" fill="none" stroke="#fff" stroke-width="2.6" stroke-linejoin="round" opacity="0.35">C</text>
<text x="305.83" y="334.00" font-size="11.0" fill="#0f3612" stroke="#0f3612" stroke-width="0.55">C</text>
<text x="313.77" y="334.00" font-size="11.0" fill="none" stroke="#fff" stroke-width="2.6" stroke-linejoin="round" opacity="0.35">H</text>
<text x="313.77" y="334.00" font-size="11.0" fill="#0f3612" stroke="#0f3612" stroke-width="0.55">H</text>
<text x="321.92" y="338.00" font-size="8.0" fill="none" stroke="#fff" stroke-width="2.4" stroke-linejoin="round" opacity="0.35">2</text>
<text x="321.92" y="338.00" font-size="8.0" fill="#0f3612" stroke="#0f3612" stroke-width="0.45">2</text>
<line x1="309.80" y1="338.00" x2="309.80" y2="349.00" stroke="#4a6e46" stroke-width="1.1"/>
<text x="318.00" y="408.00" font-size="19.2" text-anchor="middle" fill="#0a0a0a" stroke="#0a0a0a" stroke-width="0.25">Cysteine</text>
<text x="318.00" y="430.00" font-size="19.2" text-anchor="middle" fill="#0a0a0a" stroke="#0a0a0a" stroke-width="0.25">(Cys or C)</text>
<rect x="408.40" y="252.00" width="43.80" height="94.00" rx="3.2" fill="#a7d69b" stroke="#a0cf95" stroke-width="1"/>
<rect x="379.50" y="342.20" width="110.50" height="46.00" rx="3.2" fill="#b8b7df" stroke="#acabd6" stroke-width="1"/>
<text x="386.50" y="357.20" font-size="11.0" fill="none" stroke="#fff" stroke-width="2.6" stroke-linejoin="round" opacity="0.35">H</text>
<text x="386.50" y="357.20" font-size="11.0" fill="#13132a" stroke="#13132a" stroke-width="0.55">H</text>
<text x="394.64" y="361.20" font-size="8.0" fill="none" stroke="#fff" stroke-width="2.4" stroke-linejoin="round" opacity="0.35">3</text>
<text x="394.64" y="361.20" font-size="8.0" fill="#13132a" stroke="#13132a" stroke-width="0.45">3</text>
<text x="399.09" y="357.20" font-size="11.0" fill="none" stroke="#fff" stroke-width="2.6" stroke-linejoin="round" opacity="0.35">N</text>
<text x="399.09" y="357.20" font-size="11.0" fill="#13132a" stroke="#13132a" stroke-width="0.55">N</text>
<text x="407.34" y="353.20" font-size="7.0" fill="#13132a">+</text>
<line x1="413.00" y1="353.40" x2="424.50" y2="353.40" stroke="#4a4a66" stroke-width="1.1"/>
<text x="426.53" y="357.20" font-size="11.0" fill="none" stroke="#fff" stroke-width="2.6" stroke-linejoin="round" opacity="0.35">C</text>
<text x="426.53" y="357.20" font-size="11.0" fill="#13132a" stroke="#13132a" stroke-width="0.55">C</text>
<line x1="436.00" y1="353.40" x2="447.50" y2="353.40" stroke="#4a4a66" stroke-width="1.1"/>
<text x="449.03" y="357.20" font-size="11.0" fill="none" stroke="#fff" stroke-width="2.6" stroke-linejoin="round" opacity="0.35">C</text>
<text x="449.03" y="357.20" font-size="11.0" fill="#13132a" stroke="#13132a" stroke-width="0.55">C</text>
<line x1="458.50" y1="353.40" x2="470.00" y2="353.40" stroke="#4a4a66" stroke-width="1.1"/>
<text x="471.22" y="357.20" font-size="11.0" fill="none" stroke="#fff" stroke-width="2.6" stroke-linejoin="round" opacity="0.35">O</text>
<text x="471.22" y="357.20" font-size="11.0" fill="#13132a" stroke="#13132a" stroke-width="0.55">O</text>
<line x1="481.00" y1="349.90" x2="484.50" y2="349.90" stroke="#13132a" stroke-width="1.1"/>
<line x1="430.50" y1="358.70" x2="430.50" y2="372.20" stroke="#4a4a66" stroke-width="1.1"/>
<text x="426.53" y="381.70" font-size="11.0" fill="none" stroke="#fff" stroke-width="2.6" stroke-linejoin="round" opacity="0.35">H</text>
<text x="426.53" y="381.70" font-size="11.0" fill="#13132a" stroke="#13132a" stroke-width="0.55">H</text>
<line x1="451.90" y1="358.70" x2="451.90" y2="371.70" stroke="#4a4a66" stroke-width="1.1"/>
<line x1="454.10" y1="358.70" x2="454.10" y2="371.70" stroke="#4a4a66" stroke-width="1.1"/>
<text x="448.72" y="381.70" font-size="11.0" fill="none" stroke="#fff" stroke-width="2.6" stroke-linejoin="round" opacity="0.35">O</text>
<text x="448.72" y="381.70" font-size="11.0" fill="#13132a" stroke="#13132a" stroke-width="0.55">O</text>
<text x="427.80" y="267.30" font-size="11.0" fill="none" stroke="#fff" stroke-width="2.6" stroke-linejoin="round" opacity="0.35">O</text>
<text x="427.80" y="267.30" font-size="11.0" fill="#0f3612" stroke="#0f3612" stroke-width="0.55">O</text>
<text x="436.36" y="267.30" font-size="11.0" fill="none" stroke="#fff" stroke-width="2.6" stroke-linejoin="round" opacity="0.35">H</text>
<text x="436.36" y="267.30" font-size="11.0" fill="#0f3612" stroke="#0f3612" stroke-width="0.55">H</text>
<line x1="429.80" y1="269.50" x2="429.80" y2="280.40" stroke="#4a6e46" stroke-width="1.1"/>
<path d="M430.00,280.20 L444.55,288.60 L444.55,305.40 L430.00,313.80 L415.45,305.40 L415.45,288.60 Z" fill="none" stroke="#557f4a" stroke-width="1.3"/>
<line x1="419.37" y1="289.19" x2="428.55" y2="283.89" stroke="#557f4a" stroke-width="1.3"/>
<line x1="442.08" y1="291.70" x2="442.08" y2="302.30" stroke="#557f4a" stroke-width="1.3"/>
<line x1="428.55" y1="310.11" x2="419.37" y2="304.81" stroke="#557f4a" stroke-width="1.3"/>
<line x1="430.00" y1="313.80" x2="430.00" y2="325.50" stroke="#4a6e46" stroke-width="1.1"/>
<text x="426.53" y="333.80" font-size="11.0" fill="none" stroke="#fff" stroke-width="2.6" stroke-linejoin="round" opacity="0.35">C</text>
<text x="426.53" y="333.80" font-size="11.0" fill="#0f3612" stroke="#0f3612" stroke-width="0.55">C</text>
<text x="434.47" y="333.80" font-size="11.0" fill="none" stroke="#fff" stroke-width="2.6" stroke-linejoin="round" opacity="0.35">H</text>
<text x="434.47" y="333.80" font-size="11.0" fill="#0f3612" stroke="#0f3612" stroke-width="0.55">H</text>
<text x="442.62" y="337.80" font-size="8.0" fill="none" stroke="#fff" stroke-width="2.4" stroke-linejoin="round" opacity="0.35">2</text>
<text x="442.62" y="337.80" font-size="8.0" fill="#0f3612" stroke="#0f3612" stroke-width="0.45">2</text>
<line x1="430.50" y1="337.50" x2="430.50" y2="349.00" stroke="#4a6e46" stroke-width="1.1"/>
<text x="434.00" y="408.00" font-size="19.2" text-anchor="middle" fill="#0a0a0a" stroke="#0a0a0a" stroke-width="0.25">Tyrosine</text>
<text x="434.00" y="430.00" font-size="19.2" text-anchor="middle" fill="#0a0a0a" stroke="#0a0a0a" stroke-width="0.25">(Tyr or Y)</text>
<rect x="527.50" y="283.20" width="53.20" height="64.00" rx="3.2" fill="#a7d69b" stroke="#a0cf95" stroke-width="1"/>
<rect x="500.70" y="342.20" width="110.50" height="46.00" rx="3.2" fill="#b8b7df" stroke="#acabd6" stroke-width="1"/>
<text x="507.70" y="357.20" font-size="11.0" fill="none" stroke="#fff" stroke-width="2.6" stroke-linejoin="round" opacity="0.35">H</text>
<text x="507.70" y="357.20" font-size="11.0" fill="#13132a" stroke="#13132a" stroke-width="0.55">H</text>
<text x="515.84" y="361.20" font-size="8.0" fill="none" stroke="#fff" stroke-width="2.4" stroke-linejoin="round" opacity="0.35">3</text>
<text x="515.84" y="361.20" font-size="8.0" fill="#13132a" stroke="#13132a" stroke-width="0.45">3</text>
<text x="520.29" y="357.20" font-size="11.0" fill="none" stroke="#fff" stroke-width="2.6" stroke-linejoin="round" opacity="0.35">N</text>
<text x="520.29" y="357.20" font-size="11.0" fill="#13132a" stroke="#13132a" stroke-width="0.55">N</text>
<text x="528.54" y="353.20" font-size="7.0" fill="#13132a">+</text>
<line x1="534.20" y1="353.40" x2="545.70" y2="353.40" stroke="#4a4a66" stroke-width="1.1"/>
<text x="547.73" y="357.20" font-size="11.0" fill="none" stroke="#fff" stroke-width="2.6" stroke-linejoin="round" opacity="0.35">C</text>
<text x="547.73" y="357.20" font-size="11.0" fill="#13132a" stroke="#13132a" stroke-width="0.55">C</text>
<line x1="557.20" y1="353.40" x2="568.70" y2="353.40" stroke="#4a4a66" stroke-width="1.1"/>
<text x="570.23" y="357.20" font-size="11.0" fill="none" stroke="#fff" stroke-width="2.6" stroke-linejoin="round" opacity="0.35">C</text>
<text x="570.23" y="357.20" font-size="11.0" fill="#13132a" stroke="#13132a" stroke-width="0.55">C</text>
<line x1="579.70" y1="353.40" x2="591.20" y2="353.40" stroke="#4a4a66" stroke-width="1.1"/>
<text x="592.42" y="357.20" font-size="11.0" fill="none" stroke="#fff" stroke-width="2.6" stroke-linejoin="round" opacity="0.35">O</text>
<text x="592.42" y="357.20" font-size="11.0" fill="#13132a" stroke="#13132a" stroke-width="0.55">O</text>
<line x1="602.20" y1="349.90" x2="605.70" y2="349.90" stroke="#13132a" stroke-width="1.1"/>
<line x1="551.70" y1="358.70" x2="551.70" y2="372.20" stroke="#4a4a66" stroke-width="1.1"/>
<text x="547.73" y="381.70" font-size="11.0" fill="none" stroke="#fff" stroke-width="2.6" stroke-linejoin="round" opacity="0.35">H</text>
<text x="547.73" y="381.70" font-size="11.0" fill="#13132a" stroke="#13132a" stroke-width="0.55">H</text>
<line x1="573.10" y1="358.70" x2="573.10" y2="371.70" stroke="#4a4a66" stroke-width="1.1"/>
<line x1="575.30" y1="358.70" x2="575.30" y2="371.70" stroke="#4a4a66" stroke-width="1.1"/>
<text x="569.92" y="381.70" font-size="11.0" fill="none" stroke="#fff" stroke-width="2.6" stroke-linejoin="round" opacity="0.35">O</text>
<text x="569.92" y="381.70" font-size="11.0" fill="#13132a" stroke="#13132a" stroke-width="0.55">O</text>
<text x="533.70" y="294.20" font-size="11.0" fill="none" stroke="#fff" stroke-width="2.6" stroke-linejoin="round" opacity="0.35">N</text>
<text x="533.70" y="294.20" font-size="11.0" fill="#0f3612" stroke="#0f3612" stroke-width="0.55">N</text>
<text x="541.64" y="294.20" font-size="11.0" fill="none" stroke="#fff" stroke-width="2.6" stroke-linejoin="round" opacity="0.35">H</text>
<text x="541.64" y="294.20" font-size="11.0" fill="#0f3612" stroke="#0f3612" stroke-width="0.55">H</text>
<text x="549.79" y="298.20" font-size="8.0" fill="none" stroke="#fff" stroke-width="2.4" stroke-linejoin="round" opacity="0.35">2</text>
<text x="549.79" y="298.20" font-size="8.0" fill="#0f3612" stroke="#0f3612" stroke-width="0.45">2</text>
<text x="564.22" y="294.20" font-size="11.0" fill="none" stroke="#fff" stroke-width="2.6" stroke-linejoin="round" opacity="0.35">O</text>
<text x="564.22" y="294.20" font-size="11.0" fill="#0f3612" stroke="#0f3612" stroke-width="0.55">O</text>
<text x="548.03" y="310.20" font-size="11.0" fill="none" stroke="#fff" stroke-width="2.6" stroke-linejoin="round" opacity="0.35">C</text>
<text x="548.03" y="310.20" font-size="11.0" fill="#0f3612" stroke="#0f3612" stroke-width="0.55">C</text>
<line x1="539.80" y1="297.80" x2="545.50" y2="302.50" stroke="#4a6e46" stroke-width="1.1"/>
<line x1="556.30" y1="300.50" x2="564.30" y2="294.50" stroke="#4a6e46" stroke-width="1.1"/>
<line x1="557.80" y1="302.30" x2="565.80" y2="296.30" stroke="#4a6e46" stroke-width="1.1"/>
<line x1="552.20" y1="312.00" x2="552.20" y2="323.50" stroke="#4a6e46" stroke-width="1.1"/>
<text x="547.73" y="333.00" font-size="11.0" fill="none" stroke="#fff" stroke-width="2.6" stroke-linejoin="round" opacity="0.35">C</text>
<text x="547.73" y="333.00" font-size="11.0" fill="#0f3612" stroke="#0f3612" stroke-width="0.55">C</text>
<text x="555.67" y="333.00" font-size="11.0" fill="none" stroke="#fff" stroke-width="2.6" stroke-linejoin="round" opacity="0.35">H</text>
<text x="555.67" y="333.00" font-size="11.0" fill="#0f3612" stroke="#0f3612" stroke-width="0.55">H</text>
<text x="563.82" y="337.00" font-size="8.0" fill="none" stroke="#fff" stroke-width="2.4" stroke-linejoin="round" opacity="0.35">2</text>
<text x="563.82" y="337.00" font-size="8.0" fill="#0f3612" stroke="#0f3612" stroke-width="0.45">2</text>
<line x1="551.70" y1="337.00" x2="551.70" y2="349.00" stroke="#4a6e46" stroke-width="1.1"/>
<text x="557.00" y="408.00" font-size="19.2" text-anchor="middle" fill="#0a0a0a" stroke="#0a0a0a" stroke-width="0.25">Asparagine</text>
<text x="557.00" y="430.00" font-size="19.2" text-anchor="middle" fill="#0a0a0a" stroke="#0a0a0a" stroke-width="0.25">(Asn or N)</text>
<rect x="647.40" y="256.70" width="53.80" height="94.00" rx="3.2" fill="#a7d69b" stroke="#a0cf95" stroke-width="1"/>
<rect x="622.50" y="342.20" width="110.50" height="46.00" rx="3.2" fill="#b8b7df" stroke="#acabd6" stroke-width="1"/>
<text x="629.50" y="357.20" font-size="11.0" fill="none" stroke="#fff" stroke-width="2.6" stroke-linejoin="round" opacity="0.35">H</text>
<text x="629.50" y="357.20" font-size="11.0" fill="#13132a" stroke="#13132a" stroke-width="0.55">H</text>
<text x="637.64" y="361.20" font-size="8.0" fill="none" stroke="#fff" stroke-width="2.4" stroke-linejoin="round" opacity="0.35">3</text>
<text x="637.64" y="361.20" font-size="8.0" fill="#13132a" stroke="#13132a" stroke-width="0.45">3</text>
<text x="642.09" y="357.20" font-size="11.0" fill="none" stroke="#fff" stroke-width="2.6" stroke-linejoin="round" opacity="0.35">N</text>
<text x="642.09" y="357.20" font-size="11.0" fill="#13132a" stroke="#13132a" stroke-width="0.55">N</text>
<text x="650.34" y="353.20" font-size="7.0" fill="#13132a">+</text>
<line x1="656.00" y1="353.40" x2="667.50" y2="353.40" stroke="#4a4a66" stroke-width="1.1"/>
<text x="669.53" y="357.20" font-size="11.0" fill="none" stroke="#fff" stroke-width="2.6" stroke-linejoin="round" opacity="0.35">C</text>
<text x="669.53" y="357.20" font-size="11.0" fill="#13132a" stroke="#13132a" stroke-width="0.55">C</text>
<line x1="679.00" y1="353.40" x2="690.50" y2="353.40" stroke="#4a4a66" stroke-width="1.1"/>
<text x="692.03" y="357.20" font-size="11.0" fill="none" stroke="#fff" stroke-width="2.6" stroke-linejoin="round" opacity="0.35">C</text>
<text x="692.03" y="357.20" font-size="11.0" fill="#13132a" stroke="#13132a" stroke-width="0.55">C</text>
<line x1="701.50" y1="353.40" x2="713.00" y2="353.40" stroke="#4a4a66" stroke-width="1.1"/>
<text x="714.22" y="357.20" font-size="11.0" fill="none" stroke="#fff" stroke-width="2.6" stroke-linejoin="round" opacity="0.35">O</text>
<text x="714.22" y="357.20" font-size="11.0" fill="#13132a" stroke="#13132a" stroke-width="0.55">O</text>
<line x1="724.00" y1="349.90" x2="727.50" y2="349.90" stroke="#13132a" stroke-width="1.1"/>
<line x1="673.50" y1="358.70" x2="673.50" y2="372.20" stroke="#4a4a66" stroke-width="1.1"/>
<text x="669.53" y="381.70" font-size="11.0" fill="none" stroke="#fff" stroke-width="2.6" stroke-linejoin="round" opacity="0.35">H</text>
<text x="669.53" y="381.70" font-size="11.0" fill="#13132a" stroke="#13132a" stroke-width="0.55">H</text>
<line x1="694.90" y1="358.70" x2="694.90" y2="371.70" stroke="#4a4a66" stroke-width="1.1"/>
<line x1="697.10" y1="358.70" x2="697.10" y2="371.70" stroke="#4a4a66" stroke-width="1.1"/>
<text x="691.72" y="381.70" font-size="11.0" fill="none" stroke="#fff" stroke-width="2.6" stroke-linejoin="round" opacity="0.35">O</text>
<text x="691.72" y="381.70" font-size="11.0" fill="#13132a" stroke="#13132a" stroke-width="0.55">O</text>
<text x="657.60" y="270.00" font-size="11.0" fill="none" stroke="#fff" stroke-width="2.6" stroke-linejoin="round" opacity="0.35">N</text>
<text x="657.60" y="270.00" font-size="11.0" fill="#0f3612" stroke="#0f3612" stroke-width="0.55">N</text>
<text x="665.54" y="270.00" font-size="11.0" fill="none" stroke="#fff" stroke-width="2.6" stroke-linejoin="round" opacity="0.35">H</text>
<text x="665.54" y="270.00" font-size="11.0" fill="#0f3612" stroke="#0f3612" stroke-width="0.55">H</text>
<text x="673.69" y="274.00" font-size="8.0" fill="none" stroke="#fff" stroke-width="2.4" stroke-linejoin="round" opacity="0.35">2</text>
<text x="673.69" y="274.00" font-size="8.0" fill="#0f3612" stroke="#0f3612" stroke-width="0.45">2</text>
<text x="685.32" y="271.20" font-size="11.0" fill="none" stroke="#fff" stroke-width="2.6" stroke-linejoin="round" opacity="0.35">O</text>
<text x="685.32" y="271.20" font-size="11.0" fill="#0f3612" stroke="#0f3612" stroke-width="0.55">O</text>
<text x="670.03" y="287.40" font-size="11.0" fill="none" stroke="#fff" stroke-width="2.6" stroke-linejoin="round" opacity="0.35">C</text>
<text x="670.03" y="287.40" font-size="11.0" fill="#0f3612" stroke="#0f3612" stroke-width="0.55">C</text>
<line x1="663.50" y1="273.50" x2="669.50" y2="278.80" stroke="#4a6e46" stroke-width="1.1"/>
<line x1="678.20" y1="277.80" x2="686.00" y2="271.50" stroke="#4a6e46" stroke-width="1.1"/>
<line x1="679.70" y1="279.60" x2="687.50" y2="273.30" stroke="#4a6e46" stroke-width="1.1"/>
<line x1="673.50" y1="289.50" x2="673.50" y2="301.00" stroke="#4a6e46" stroke-width="1.1"/>
<text x="669.53" y="310.30" font-size="11.0" fill="none" stroke="#fff" stroke-width="2.6" stroke-linejoin="round" opacity="0.35">C</text>
<text x="669.53" y="310.30" font-size="11.0" fill="#0f3612" stroke="#0f3612" stroke-width="0.55">C</text>
<text x="677.47" y="310.30" font-size="11.0" fill="none" stroke="#fff" stroke-width="2.6" stroke-linejoin="round" opacity="0.35">H</text>
<text x="677.47" y="310.30" font-size="11.0" fill="#0f3612" stroke="#0f3612" stroke-width="0.55">H</text>
<text x="685.62" y="314.30" font-size="8.0" fill="none" stroke="#fff" stroke-width="2.4" stroke-linejoin="round" opacity="0.35">2</text>
<text x="685.62" y="314.30" font-size="8.0" fill="#0f3612" stroke="#0f3612" stroke-width="0.45">2</text>
<line x1="673.50" y1="313.50" x2="673.50" y2="325.00" stroke="#4a6e46" stroke-width="1.1"/>
<text x="669.53" y="333.50" font-size="11.0" fill="none" stroke="#fff" stroke-width="2.6" stroke-linejoin="round" opacity="0.35">C</text>
<text x="669.53" y="333.50" font-size="11.0" fill="#0f3612" stroke="#0f3612" stroke-width="0.55">C</text>
<text x="677.47" y="333.50" font-size="11.0" fill="none" stroke="#fff" stroke-width="2.6" stroke-linejoin="round" opacity="0.35">H</text>
<text x="677.47" y="333.50" font-size="11.0" fill="#0f3612" stroke="#0f3612" stroke-width="0.55">H</text>
<text x="685.62" y="337.50" font-size="8.0" fill="none" stroke="#fff" stroke-width="2.4" stroke-linejoin="round" opacity="0.35">2</text>
<text x="685.62" y="337.50" font-size="8.0" fill="#0f3612" stroke="#0f3612" stroke-width="0.45">2</text>
<line x1="673.50" y1="337.00" x2="673.50" y2="349.00" stroke="#4a6e46" stroke-width="1.1"/>
<text x="679.00" y="408.00" font-size="19.2" text-anchor="middle" fill="#0a0a0a" stroke="#0a0a0a" stroke-width="0.25">Glutamine</text>
<text x="679.00" y="430.00" font-size="19.2" text-anchor="middle" fill="#0a0a0a" stroke="#0a0a0a" stroke-width="0.25">(Gln or Q)</text>
<text x="5.3" y="470.8" font-size="16.9" fill="#a80f2a" textLength="353.4" lengthAdjust="spacingAndGlyphs">Electrically charged side chains; hydrophilic</text>
<text x="383.5" y="484.8" font-size="20.8" fill="#0a0a0a" stroke="#0a0a0a" stroke-width="0.25" textLength="255.5" lengthAdjust="spacingAndGlyphs">Basic (positively charged)</text>
<path d="M329.5,503 Q330,497.3 336,497.3 L499,497.3 C505,497.3 508,494.5 509.6,490 C511.2,494.5 514.2,497.3 520.2,497.3 L682,497.3 Q688.5,497.3 689,503" fill="none" stroke="#111" stroke-width="1.8"/>
<rect x="593" y="39.4" width="63" height="16.5" rx="2" fill="#fff" opacity="0.8"/>
<g opacity="0.85"><text x="479.3" y="52.4" transform="translate(0,52.4) scale(1,0.86) translate(0,-52.4)" font-family="Liberation Mono, monospace" font-weight="normal" font-size="12" fill="#fff" stroke="#fff" stroke-width="3.2" stroke-linejoin="round">www.zh6l.com.cn</text><path d="M597.3,45.2 H604.3 M595.3,48.7 H606.3 M600.8,41.7 V54.7 M600.3,49.2 L595.3,53.7 M601.3,49.2 L606.3,53.7 M611.5,43.7 H620.5 M613.0,45.2 L614.2,47.5 M619.0,45.2 L617.8,47.5 M610.5,48.7 H621.5 M616.0,41.7 V54.7 M615.5,49.2 L610.5,53.7 M616.5,49.2 L621.5,53.7 M628.1999999999999,41.7 H634.6999999999999 V46.7 H628.1999999999999 Z M628.1999999999999,44.2 H634.6999999999999 M628.6999999999999,47.7 L626.4,50.400000000000006 M627.6999999999999,49.800000000000004 H636.1999999999999 M631.6999999999999,47.7 V54.2 M628.1999999999999,52.0 H635.1999999999999 M625.6999999999999,54.400000000000006 H637.1999999999999 M641.4,54.7 V42.0 H651.9 V54.7 M643.0,44.7 L646.4,51.7 M646.4,44.7 L643.0,51.7 M646.6,44.7 L650.1999999999999,51.7 M650.1999999999999,44.7 L646.6,51.7" fill="none" stroke="#fff" stroke-width="4" stroke-linejoin="round" stroke-linecap="round"/></g>
<text x="479.3" y="52.4" transform="translate(0,52.4) scale(1,0.86) translate(0,-52.4)" font-family="Liberation Mono, monospace" font-weight="normal" font-size="12" fill="#d66f7b" stroke="#d66f7b" stroke-width="0.3">www.zh6l.com.cn</text>
<path d="M597.3,45.2 H604.3 M595.3,48.7 H606.3 M600.8,41.7 V54.7 M600.3,49.2 L595.3,53.7 M601.3,49.2 L606.3,53.7 M611.5,43.7 H620.5 M613.0,45.2 L614.2,47.5 M619.0,45.2 L617.8,47.5 M610.5,48.7 H621.5 M616.0,41.7 V54.7 M615.5,49.2 L610.5,53.7 M616.5,49.2 L621.5,53.7 M628.1999999999999,41.7 H634.6999999999999 V46.7 H628.1999999999999 Z M628.1999999999999,44.2 H634.6999999999999 M628.6999999999999,47.7 L626.4,50.400000000000006 M627.6999999999999,49.800000000000004 H636.1999999999999 M631.6999999999999,47.7 V54.2 M628.1999999999999,52.0 H635.1999999999999 M625.6999999999999,54.400000000000006 H637.1999999999999 M641.4,54.7 V42.0 H651.9 V54.7 M643.0,44.7 L646.4,51.7 M646.4,44.7 L643.0,51.7 M646.6,44.7 L650.1999999999999,51.7 M650.1999999999999,44.7 L646.6,51.7" fill="none" stroke="#dc6874" stroke-width="1.3"/>
<rect x="593" y="265.4" width="63" height="16.5" rx="2" fill="#fff" opacity="0.8"/>
<g opacity="0.85"><text x="479.3" y="278.4" transform="translate(0,278.4) scale(1,0.86) translate(0,-278.4)" font-family="Liberation Mono, monospace" font-weight="normal" font-size="12" fill="#fff" stroke="#fff" stroke-width="3.2" stroke-linejoin="round">www.zh6l.com.cn</text><path d="M597.3,271.2 H604.3 M595.3,274.7 H606.3 M600.8,267.7 V280.7 M600.3,275.2 L595.3,279.7 M601.3,275.2 L606.3,279.7 M611.5,269.7 H620.5 M613.0,271.2 L614.2,273.5 M619.0,271.2 L617.8,273.5 M610.5,274.7 H621.5 M616.0,267.7 V280.7 M615.5,275.2 L610.5,279.7 M616.5,275.2 L621.5,279.7 M628.1999999999999,267.7 H634.6999999999999 V272.7 H628.1999999999999 Z M628.1999999999999,270.2 H634.6999999999999 M628.6999999999999,273.7 L626.4,276.4 M627.6999999999999,275.8 H636.1999999999999 M631.6999999999999,273.7 V280.2 M628.1999999999999,278.0 H635.1999999999999 M625.6999999999999,280.4 H637.1999999999999 M641.4,280.7 V268.0 H651.9 V280.7 M643.0,270.7 L646.4,277.7 M646.4,270.7 L643.0,277.7 M646.6,270.7 L650.1999999999999,277.7 M650.1999999999999,270.7 L646.6,277.7" fill="none" stroke="#fff" stroke-width="4" stroke-linejoin="round" stroke-linecap="round"/></g>
<text x="479.3" y="278.4" transform="translate(0,278.4) scale(1,0.86) translate(0,-278.4)" font-family="Liberation Mono, monospace" font-weight="normal" font-size="12" fill="#d66f7b" stroke="#d66f7b" stroke-width="0.3">www.zh6l.com.cn</text>
<path d="M597.3,271.2 H604.3 M595.3,274.7 H606.3 M600.8,267.7 V280.7 M600.3,275.2 L595.3,279.7 M601.3,275.2 L606.3,279.7 M611.5,269.7 H620.5 M613.0,271.2 L614.2,273.5 M619.0,271.2 L617.8,273.5 M610.5,274.7 H621.5 M616.0,267.7 V280.7 M615.5,275.2 L610.5,279.7 M616.5,275.2 L621.5,279.7 M628.1999999999999,267.7 H634.6999999999999 V272.7 H628.1999999999999 Z M628.1999999999999,270.2 H634.6999999999999 M628.6999999999999,273.7 L626.4,276.4 M627.6999999999999,275.8 H636.1999999999999 M631.6999999999999,273.7 V280.2 M628.1999999999999,278.0 H635.1999999999999 M625.6999999999999,280.4 H637.1999999999999 M641.4,280.7 V268.0 H651.9 V280.7 M643.0,270.7 L646.4,277.7 M646.4,270.7 L643.0,277.7 M646.6,270.7 L650.1999999999999,277.7 M650.1999999999999,270.7 L646.6,277.7" fill="none" stroke="#dc6874" stroke-width="1.3"/>
</svg>
</body></html>
